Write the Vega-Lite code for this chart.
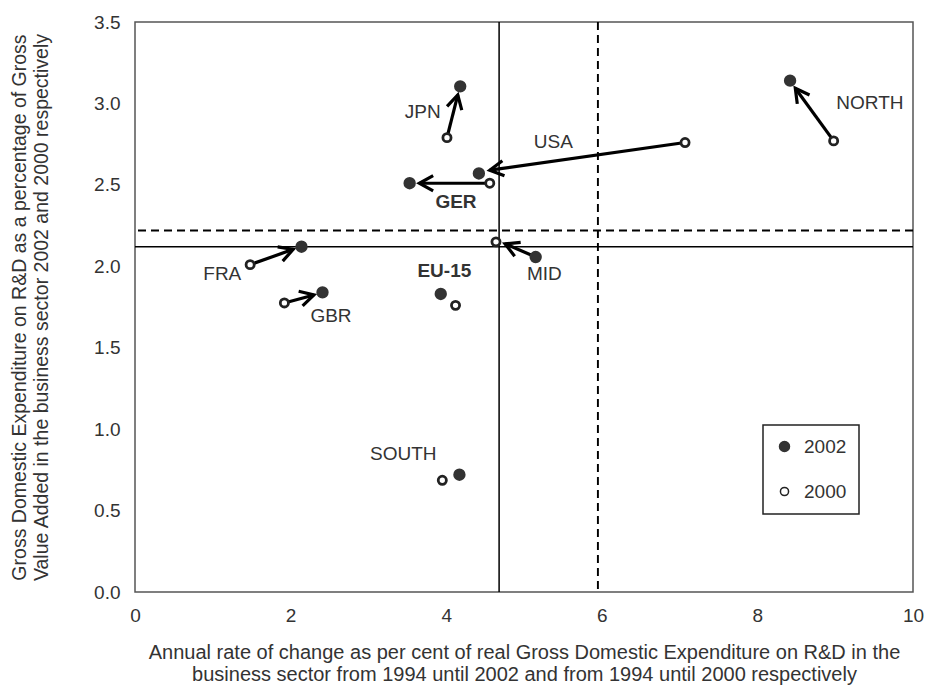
{
  "$schema": "https://vega.github.io/schema/vega-lite/v6.json",
  "width": 778,
  "height": 570,
  "autosize": {"type": "none"},
  "padding": {"left": 135, "top": 22, "right": 15, "bottom": 96},
  "config": {
    "font": "Liberation Sans",
    "view": {"stroke": "#555555", "strokeWidth": 1.5},
    "axis": {
      "grid": false, "ticks": false, "domain": false, "labelFlush": false,
      "labelFontSize": 19, "labelColor": "#333333",
      "titleFontSize": 19.5, "titleFontWeight": "normal", "titleColor": "#333333", "titleLineHeight": 22
    },
    "axisX": {"labelPadding": 14, "titleFontSize": 20, "titleX": 389, "titleY": 50, "titleBaseline": "top", "titleAlign": "center"},
    "axisY": {"labelPadding": 15, "titleAngle": -90, "titleX": -125, "titleY": 285, "titleBaseline": "top", "titleAlign": "center"},
    "legend": {
      "orient": "none", "legendX": 628, "legendY": 403,
      "strokeColor": "#222222", "strokeWidth": 1.5, "padding": 12,
      "labelFontSize": 19, "labelColor": "#333333", "labelOffset": 10, "rowPadding": 25
    }
  },
  "datasets": {
    "points": [
      {"region": "FRA", "year": "2002", "x": 2.14, "y": 2.12},
      {"region": "FRA", "year": "2000", "x": 1.48, "y": 2.01},
      {"region": "GBR", "year": "2002", "x": 2.41, "y": 1.84},
      {"region": "GBR", "year": "2000", "x": 1.92, "y": 1.775},
      {"region": "JPN", "year": "2002", "x": 4.18, "y": 3.105},
      {"region": "JPN", "year": "2000", "x": 4.01, "y": 2.79},
      {"region": "USA", "year": "2002", "x": 4.42, "y": 2.57},
      {"region": "USA", "year": "2000", "x": 7.07, "y": 2.76},
      {"region": "GER", "year": "2002", "x": 3.53, "y": 2.51},
      {"region": "GER", "year": "2000", "x": 4.56, "y": 2.51},
      {"region": "MID", "year": "2002", "x": 5.15, "y": 2.057},
      {"region": "MID", "year": "2000", "x": 4.64, "y": 2.15},
      {"region": "NORTH", "year": "2002", "x": 8.42, "y": 3.14},
      {"region": "NORTH", "year": "2000", "x": 8.98, "y": 2.77},
      {"region": "EU-15", "year": "2002", "x": 3.93, "y": 1.83},
      {"region": "EU-15", "year": "2000", "x": 4.12, "y": 1.76},
      {"region": "SOUTH", "year": "2002", "x": 4.17, "y": 0.72},
      {"region": "SOUTH", "year": "2000", "x": 3.95, "y": 0.686}
    ],
    "arrows": [
      {"region": "FRA", "xs": 1.48, "ys": 2.01, "xt": 2.033, "yt": 2.104},
      {"region": "GBR", "xs": 1.92, "ys": 1.775, "xt": 2.3, "yt": 1.824},
      {"region": "JPN", "xs": 4.01, "ys": 2.79, "xt": 4.149, "yt": 3.052},
      {"region": "USA", "xs": 7.07, "ys": 2.76, "xt": 4.56, "yt": 2.59},
      {"region": "GER", "xs": 4.56, "ys": 2.51, "xt": 3.655, "yt": 2.51},
      {"region": "MID", "xs": 5.15, "ys": 2.057, "xt": 4.756, "yt": 2.138},
      {"region": "NORTH", "xs": 8.98, "ys": 2.77, "xt": 8.487, "yt": 3.093}
    ],
    "labels": [
      {"name": "JPN", "x": 3.698, "y": 2.947},
      {"name": "USA", "x": 5.377, "y": 2.763},
      {"name": "GER", "x": 4.126, "y": 2.395},
      {"name": "NORTH", "x": 9.447, "y": 3.003},
      {"name": "FRA", "x": 1.122, "y": 1.955},
      {"name": "GBR", "x": 2.519, "y": 1.693},
      {"name": "EU-15", "x": 3.976, "y": 1.971},
      {"name": "MID", "x": 5.261, "y": 1.951},
      {"name": "SOUTH", "x": 3.449, "y": 0.846}
    ],
    "refX": [
      {"v": 4.68, "kind": "solid"},
      {"v": 5.95, "kind": "dashed"}
    ],
    "refY": [
      {"v": 2.12, "kind": "solid"},
      {"v": 2.22, "kind": "dashed"}
    ]
  },
  "layer": [
    {
      "data": {"name": "points"},
      "mark": {"type": "point", "opacity": 0},
      "encoding": {
        "x": {
          "field": "x", "type": "quantitative",
          "scale": {"domain": [0, 10], "nice": false, "zero": false},
          "axis": {
            "values": [0, 2, 4, 6, 8, 10],
            "format": "d",
            "title": ["Annual rate of change as per cent of real Gross Domestic Expenditure on R&D in the", "business sector from 1994 until 2002 and from 1994 until 2000 respectively"]
          }
        },
        "y": {
          "field": "y", "type": "quantitative",
          "scale": {"domain": [0, 3.5], "nice": false, "zero": false},
          "axis": {
            "values": [0, 0.5, 1, 1.5, 2, 2.5, 3, 3.5],
            "format": ".1f",
            "title": ["Gross Domestic Expenditure on R&D as  a percentage of Gross", "Value Added in the business sector 2002 and 2000 respectively"]
          }
        }
      }
    },
    {
      "data": {"name": "refX"},
      "mark": {"type": "rule", "color": "#000000"},
      "encoding": {
        "x": {"field": "v", "type": "quantitative"},
        "strokeDash": {"field": "kind", "type": "nominal", "scale": {"domain": ["solid", "dashed"], "range": [[1, 0], [8, 5]]}, "legend": null},
        "strokeWidth": {"field": "kind", "type": "nominal", "scale": {"domain": ["solid", "dashed"], "range": [1.5, 2.8]}, "legend": null}
      }
    },
    {
      "data": {"name": "refY"},
      "mark": {"type": "rule", "color": "#000000"},
      "encoding": {
        "y": {"field": "v", "type": "quantitative"},
        "strokeDash": {"field": "kind", "type": "nominal", "scale": {"domain": ["solid", "dashed"], "range": [[1, 0], [8, 5]]}, "legend": null},
        "strokeWidth": {"field": "kind", "type": "nominal", "scale": {"domain": ["solid", "dashed"], "range": [1.5, 2.8]}, "legend": null}
      }
    },
    {
      "data": {"name": "arrows"},
      "mark": {"type": "rule", "color": "#000000", "strokeWidth": 3.2},
      "encoding": {
        "x": {"field": "xs", "type": "quantitative"},
        "y": {"field": "ys", "type": "quantitative"},
        "x2": {"field": "xt"},
        "y2": {"field": "yt"}
      }
    },
    {
      "data": {"name": "arrows"},
      "transform": [
        {"calculate": "atan2(-(datum.yt - datum.ys) * 162.857, (datum.xt - datum.xs) * 77.8) * 180 / PI", "as": "a0"},
        {"calculate": "(datum.a0 + 360) % 360", "as": "ang"}
      ],
      "mark": {"type": "point", "shape": "M-1,-0.55L0,0L-1,0.55", "filled": false, "stroke": "#000000", "strokeWidth": 3.2, "strokeJoin": "miter", "size": 760, "opacity": 1},
      "encoding": {
        "x": {"field": "xt", "type": "quantitative"},
        "y": {"field": "yt", "type": "quantitative"},
        "angle": {"field": "ang", "type": "quantitative", "scale": null}
      }
    },
    {
      "data": {"name": "points"},
      "mark": {"type": "point", "shape": "circle", "filled": true, "opacity": 1},
      "encoding": {
        "x": {"field": "x", "type": "quantitative"},
        "y": {"field": "y", "type": "quantitative"},
        "fill": {"field": "year", "type": "nominal", "scale": {"domain": ["2002", "2000"], "range": ["#333333", "#ffffff"]}, "legend": {"title": null}},
        "stroke": {"field": "year", "type": "nominal", "scale": {"domain": ["2002", "2000"], "range": ["#333333", "#222222"]}, "legend": {"title": null}},
        "size": {"field": "year", "type": "nominal", "scale": {"domain": ["2002", "2000"], "range": [100, 66]}, "legend": {"title": null}},
        "strokeWidth": {"field": "year", "type": "nominal", "scale": {"domain": ["2002", "2000"], "range": [1, 2]}, "legend": {"title": null}}
      }
    },
    {
      "data": {"name": "labels"},
      "transform": [{"filter": "datum.name !== 'GER' && datum.name !== 'EU-15'"}],
      "mark": {"type": "text", "fontSize": 19, "color": "#333333", "align": "center", "baseline": "middle"},
      "encoding": {
        "x": {"field": "x", "type": "quantitative"},
        "y": {"field": "y", "type": "quantitative"},
        "text": {"field": "name"}
      }
    },
    {
      "data": {"name": "labels"},
      "transform": [{"filter": "datum.name === 'GER' || datum.name === 'EU-15'"}],
      "mark": {"type": "text", "fontSize": 19, "fontWeight": "bold", "color": "#333333", "align": "center", "baseline": "middle"},
      "encoding": {
        "x": {"field": "x", "type": "quantitative"},
        "y": {"field": "y", "type": "quantitative"},
        "text": {"field": "name"}
      }
    }
  ]
}
